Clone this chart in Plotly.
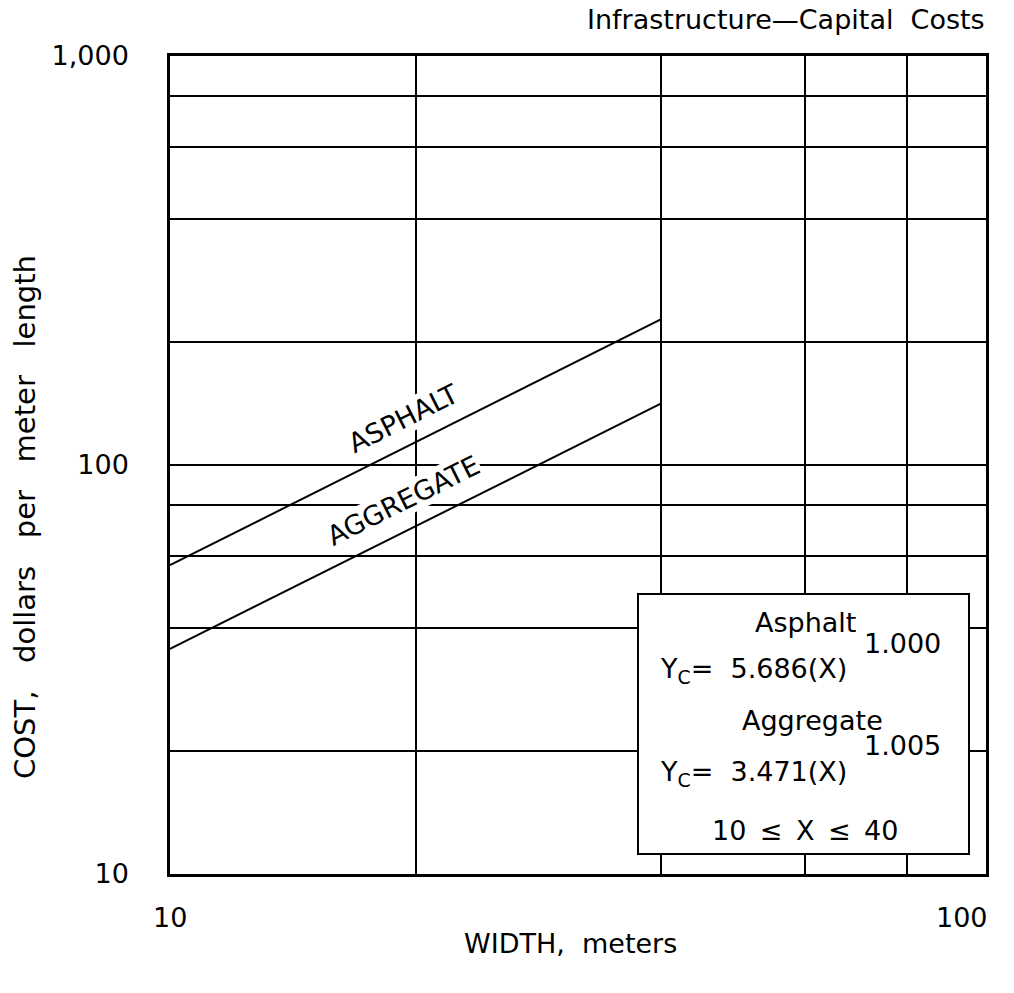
import plotly.graph_objects as go
import math

# ---- data ----
width_m = [10, 40]
asphalt_cost = [56.9, 227.4]
aggregate_cost = [35.5, 141.4]

x_tick_vals = [10, 100]
x_tick_text = ["10", "100"]
y_tick_vals = [10, 100, 1000]
y_tick_text = ["10", "100", "1,000"]
x_grid_vals = [20, 40, 60, 80]
y_grid_vals = [20, 40, 60, 80, 200, 400, 600, 800]

title_text = "Infrastructure\u2014Capital  Costs"
x_title = "WIDTH,  meters"
y_title = "COST,   dollars   per   meter   length"

# ---- layout geometry ----
W, H = 1014, 993
L, R, T, B = 170, 28, 56, 119
PW, PH = W - L - R, H - T - B
FONT = "DejaVu Sans"
FS = 27


def px(x):
    return (x - L) / PW


def py(y):
    return (H - B - y) / PH


fig = go.Figure()
fig.add_trace(go.Scatter(x=width_m, y=asphalt_cost, mode="lines",
                         line=dict(color="black", width=2), showlegend=False))
fig.add_trace(go.Scatter(x=width_m, y=aggregate_cost, mode="lines",
                         line=dict(color="black", width=2), showlegend=False))

axis_common = dict(
    type="log", showline=True, linecolor="black", linewidth=2.5, mirror=True,
    showgrid=True, gridcolor="black", gridwidth=2, ticks="", zeroline=False,
    tickfont=dict(family=FONT, size=FS, color="black"),
)

fig.update_xaxes(**axis_common, range=[1, 2], tickvals=x_tick_vals, ticktext=x_tick_text,
                 showticklabels=False,
                 minor=dict(tickvals=x_grid_vals, showgrid=True, gridcolor="black", gridwidth=2, ticks=""))
fig.update_yaxes(**axis_common, range=[1, 3], tickvals=y_tick_vals, ticktext=y_tick_text,
                 ticklabelstandoff=33,
                 minor=dict(tickvals=y_grid_vals, showgrid=True, gridcolor="black", gridwidth=2, ticks=""))

txt_font = dict(family=FONT, size=FS, color="black")
ann = []
# x tick labels (first centred on the axis start, last ending at the axis end)
for i, (v, t) in enumerate(zip(x_tick_vals, x_tick_text)):
    last = i == len(x_tick_vals) - 1
    ann.append(dict(text=t, x=math.log10(v), y=py(917), xref="x", yref="paper",
                    xanchor="right" if last else "center", xshift=4 if last else 0,
                    yanchor="middle", showarrow=False, font=txt_font))
# title
ann.append(dict(text=title_text, x=px(987), y=py(20), xref="paper", yref="paper",
                xanchor="right", yanchor="middle", showarrow=False, font=txt_font))
# axis titles
ann.append(dict(text=x_title, x=px(570), y=py(943), xref="paper", yref="paper",
                xanchor="center", yanchor="middle", showarrow=False, font=txt_font))
ann.append(dict(text=y_title, x=px(25), y=py(517), xref="paper", yref="paper",
                xanchor="center", yanchor="middle", showarrow=False, textangle=-90,
                font=dict(family=FONT, size=29, color="black")))

# line labels
ang = -math.degrees(math.atan((PH / 2) / PW))
ann.append(dict(text="ASPHALT", x=math.log10(19.3), y=math.log10(130), xref="x", yref="y",
                showarrow=False, textangle=ang, bgcolor="white", borderpad=0, font=txt_font))
ann.append(dict(text="AGGREGATE", x=math.log10(19.3), y=math.log10(82), xref="x", yref="y",
                showarrow=False, textangle=ang, bgcolor="white", borderpad=0, font=txt_font))

# equation box texts
ann.append(dict(text="Asphalt", x=px(805), y=py(622), xref="paper", yref="paper",
                xanchor="center", yanchor="middle", showarrow=False, font=txt_font))
ann.append(dict(text="1.000", x=px(862), y=py(643), xref="paper", yref="paper",
                xanchor="left", yanchor="middle", showarrow=False, font=txt_font))
ann.append(dict(text="Y<sub>C</sub>=  5.686(X)", x=px(658), y=py(670), xref="paper", yref="paper",
                xanchor="left", yanchor="middle", showarrow=False, font=txt_font))
ann.append(dict(text="Aggregate", x=px(812), y=py(720), xref="paper", yref="paper",
                xanchor="center", yanchor="middle", showarrow=False, font=txt_font))
ann.append(dict(text="1.005", x=px(862), y=py(745), xref="paper", yref="paper",
                xanchor="left", yanchor="middle", showarrow=False, font=txt_font))
ann.append(dict(text="Y<sub>C</sub>=  3.471(X)", x=px(658), y=py(773), xref="paper", yref="paper",
                xanchor="left", yanchor="middle", showarrow=False, font=txt_font))
ann.append(dict(text="10\u2002\u2264\u2002X\u2002\u2264\u200240", x=px(805), y=py(830),
                xref="paper", yref="paper",
                xanchor="center", yanchor="middle", showarrow=False, font=txt_font))

shapes = [dict(type="rect", xref="paper", yref="paper",
               x0=px(638), x1=px(969), y0=py(854), y1=py(594),
               fillcolor="white", line=dict(color="black", width=2), layer="above")]

fig.update_layout(
    width=W, height=H, margin=dict(l=L, r=R, t=T, b=B, pad=0),
    paper_bgcolor="white", plot_bgcolor="white",
    annotations=ann, shapes=shapes, showlegend=False,
    font=txt_font,
)

fig.write_html("out.html", config={"displayModeBar": False},
               post_script="document.body.style.margin='0';document.body.style.overflow='hidden';")
